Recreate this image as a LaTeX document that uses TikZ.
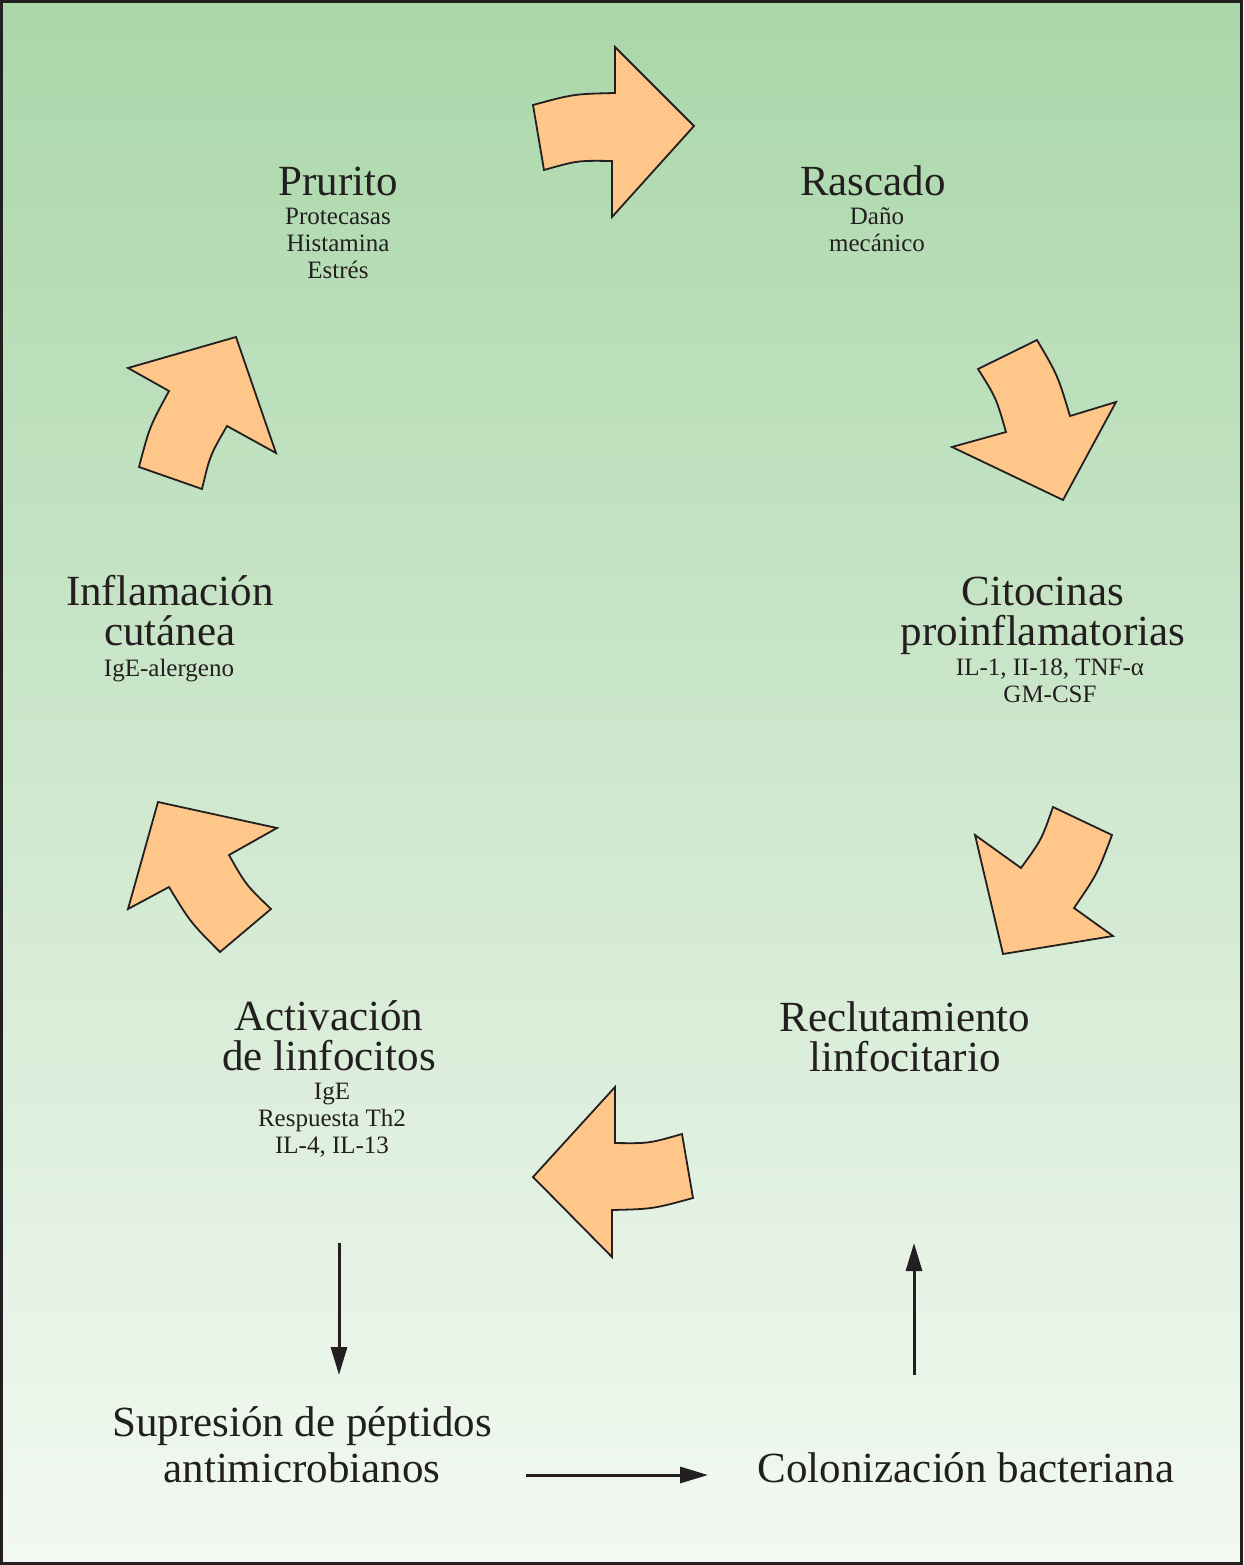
\documentclass[tikz,border=0pt]{standalone}
\usepackage{fontspec}
\setmainfont{Liberation Serif}
\usetikzlibrary{arrows.meta}

\begin{document}
\begin{tikzpicture}[x=1pt, y=-1pt,
    blockarrow/.style={fill=arrowFill, draw=inkDark, line width=1.8pt, line join=miter},
    title/.style={anchor=base, align=center, text=inkDark, inner sep=0pt,
                  font=\fontsize{43}{40}\selectfont},
    sub/.style={anchor=base, align=center, text=inkDark, inner sep=0pt,
                font=\fontsize{25}{27}\selectfont},
    flow/.style={draw=inkDark, line width=3pt,
                 -{Triangle[length=28pt, width=16pt]}},
]

% Colors
\definecolor{bgTop}{HTML}{AAD7A9}
\definecolor{bgBot}{HTML}{F3F9F2}
\definecolor{arrowFill}{HTML}{FFC68A}
\definecolor{inkDark}{HTML}{231F20}

% === Background ===
\useasboundingbox (0,0) rectangle (1243,1565);
\shade[top color=bgTop, bottom color=bgBot] (0,0) rectangle (1243,1565);
\draw[inkDark, line width=3pt] (1.5,1.5) rectangle (1241.5,1563.5);

% === Block arrows of the cycle ===
% top: Prurito -> Rascado
\path[blockarrow] (533,105) .. controls (573.6,94) .. (615,93) -- (615,47) -- (694,126)
  -- (612,217) -- (612,161) .. controls (577.5,160.5) .. (544,170) -- cycle;
% Rascado -> Citocinas
\path[blockarrow] (1037,340) .. controls (1057.7,375.3) .. (1070,416) -- (1116,402) -- (1063,500)
  -- (952,447) -- (1006,432) .. controls (996.1,397.7) .. (978,369) -- cycle;
% Citocinas -> Reclutamiento
\path[blockarrow] (1053,807) -- (1112,835) .. controls (1097.5,873.6) .. (1074,908) -- (1113,936)
  -- (1003,954) -- (975,835) -- (1021,868) .. controls (1041.6,839.6) .. cycle;
% Reclutamiento -> Activacion
\path[blockarrow] (615,1087) -- (533,1177) -- (612,1257) -- (612,1210)
  .. controls (652.8,1209) .. (693,1198) -- (682,1134) .. controls (648.8,1143.5) .. (615,1143) -- cycle;
% Activacion -> Inflamacion
\path[blockarrow] (158,802) -- (277,828) -- (229,855) .. controls (245.8,884.7) .. (271,909)
  -- (220,952) .. controls (190.3,922.2) .. (169,887) -- (128,909) -- cycle;
% Inflamacion -> Prurito
\path[blockarrow] (236,337) -- (276,453) -- (227,426) .. controls (210,455.4) .. (202,489)
  -- (139,467) .. controls (149.5,426.9) .. (169,391) -- (128,368) -- cycle;

% === Labels (base = last line) ===
\node[title, text depth=0pt] (prurito) at (338,196) {Prurito};
\node[sub] (pruritoSub) at (338,278) {Protecasas\\Histamina\\Estrés};

\node[title, text depth=0pt] (rascado) at (873,196) {Rascado};
\node[sub] (rascadoSub) at (877,251) {Daño\\mecánico};

\node[title] (citocinas) at (1043,645) {Citocinas\\proinflamatorias};
\node[sub] (citocinasSub) at (1050,702) {IL-1, II-18, TNF-α\\GM-CSF};

\node[title] (reclut) at (905,1071) {Reclutamiento\\linfocitario};

\node[title] (activ) at (329,1070) {Activación\\de linfocitos};
\node[sub] (activSub) at (332,1153) {IgE\\Respuesta Th2\\IL-4, IL-13};

\node[title] (inflam) at (170,645) {Inflamación\\cutánea};
\node[sub] (inflamSub) at (169,676) {IgE-alergeno};

\node[title, font=\fontsize{43}{46}\selectfont] (supres) at (302,1482)
  {Supresión de péptidos\\antimicrobianos};
\node[title] (coloniz) at (966,1482) {Colonización bacteriana};

% === Lower loop ===
\coordinate (downA) at (339,1243);
\coordinate (downB) at (339,1375);
\coordinate (rightA) at (526,1475);
\coordinate (rightB) at (708,1475);
\coordinate (upA) at (914,1375);
\coordinate (upB) at (914,1243);
\draw[flow] (downA) -- (downB);
\draw[flow] (rightA) -- (rightB);
\draw[flow] (upA) -- (upB);
\end{tikzpicture}
\end{document}
